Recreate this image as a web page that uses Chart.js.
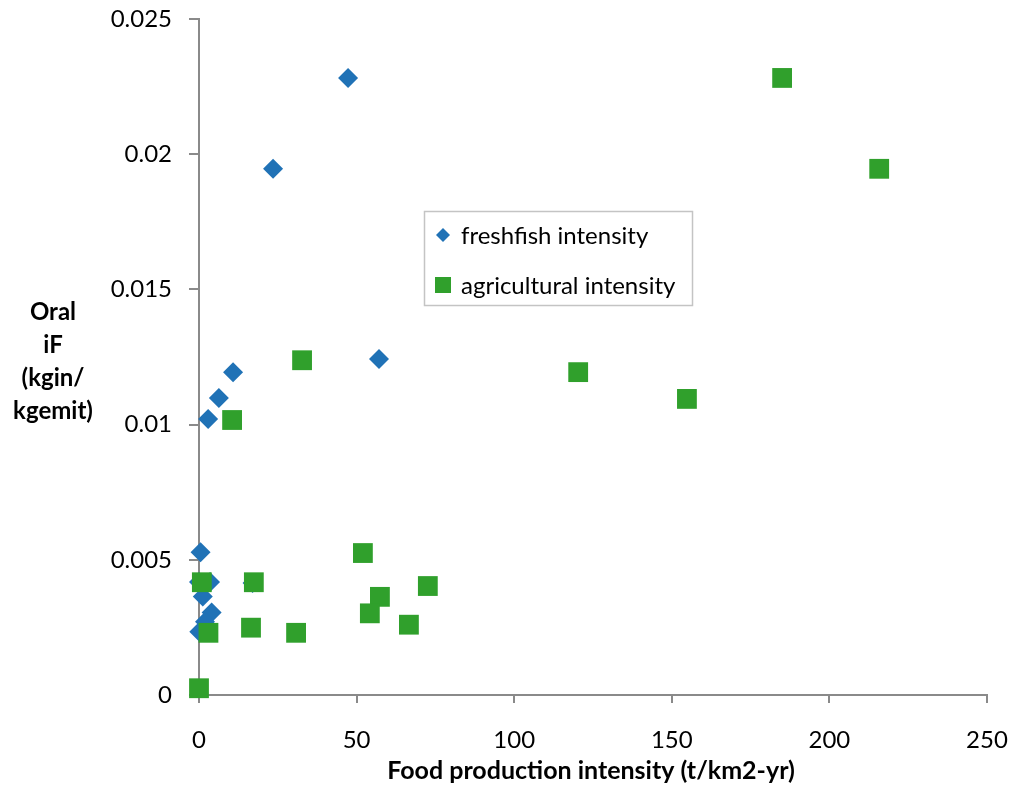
<!DOCTYPE html>
<html><head><meta charset="utf-8">
<script src="https://cdn.jsdelivr.net/npm/chart.js@4.4.1/dist/chart.umd.min.js"></script>
<style>html,body{margin:0;padding:0;background:#fff}#wrap{width:1011px;height:791px;position:relative}</style>
</head><body><div id="wrap"><canvas id="c" width="1011" height="791"></canvas></div>
<script>
const seriesNames = ['freshfish intensity', 'agricultural intensity'];
const freshfishX = [47.3, 23.5, 57.1, 10.8, 6.3, 2.9, 0.5, 0.0, 3.5, 1.2, 4.0, 1.9, 0.1, 17.0];
const freshfishY = [0.02282, 0.01946, 0.01243, 0.01194, 0.01098, 0.01021, 0.00528, 0.00418, 0.00418, 0.00364, 0.00305, 0.00271, 0.00234, 0.00414];
const agriX = [185.0, 215.8, 32.7, 120.3, 154.8, 10.5, 52.0, 72.6, 57.4, 54.2, 66.6, 30.8, 0.9, 17.4, 16.5, 3.0, 0.0];
const agriY = [0.02282, 0.01946, 0.01238, 0.01194, 0.01095, 0.01017, 0.00525, 0.00403, 0.00363, 0.00302, 0.00260, 0.00230, 0.00417, 0.00417, 0.00249, 0.00230, 0.00025];
const xTickLabels = ['0', '50', '100', '150', '200', '250'];
const yTickLabels = ['0', '0.005', '0.01', '0.015', '0.02', '0.025'];
const xTitle = 'Food production intensity (t/km2-yr)';
const yTitleLines = ['Oral', 'iF', '(kgin/', 'kgemit)'];

const BLUE = '#2072B6', GREEN = '#30A02C', AXIS = '#8a8a8a';
const FONT = 'Lato, "Open Sans", sans-serif';

const toPts = (xs, ys) => xs.map((x, i) => ({x: x, y: ys[i]}));

const zeroPad = (s) => { s.paddingTop = 0; s.paddingBottom = 0; s.paddingLeft = 0; s.paddingRight = 0; };

const overlay = {
  id: 'overlay',
  afterDraw(chart) {
    const ctx = chart.ctx;
    ctx.save();
    ctx.fillStyle = '#000';
    ctx.font = 'bold 25px ' + FONT;
    ctx.textAlign = 'center';
    ctx.textBaseline = 'middle';
    ctx.fillText(xTitle, 591, 771);
    ctx.font = 'bold 24px ' + FONT;
    yTitleLines.forEach((t, i) => ctx.fillText(t, 53, 312 + i * 33));
    // legend box
    ctx.strokeStyle = '#c4c4c4';
    ctx.lineWidth = 1.5;
    ctx.strokeRect(424.5, 211.5, 268, 94);
    ctx.fillStyle = BLUE;
    ctx.beginPath();
    ctx.moveTo(443, 228); ctx.lineTo(450, 235); ctx.lineTo(443, 242); ctx.lineTo(436, 235); ctx.closePath();
    ctx.fill();
    ctx.fillStyle = GREEN;
    ctx.fillRect(435, 277, 16, 16);
    ctx.fillStyle = '#000';
    ctx.font = '24px ' + FONT;
    ctx.textAlign = 'left';
    ctx.fillText(seriesNames[0], 461, 236);
    ctx.fillText(seriesNames[1], 461, 286);
    ctx.restore();
  }
};

new Chart(document.getElementById('c'), {
  type: 'scatter',
  data: {
    datasets: [
      {label: seriesNames[0], data: toPts(freshfishX, freshfishY), pointStyle: 'rectRot', pointRadius: 10, pointHoverRadius: 10,
       backgroundColor: BLUE, borderColor: BLUE, borderWidth: 0, order: 1, clip: false},
      {label: seriesNames[1], data: toPts(agriX, agriY), pointStyle: 'rect', pointRadius: 14, pointHoverRadius: 14,
       backgroundColor: GREEN, borderColor: GREEN, borderWidth: 0, order: 0, clip: false}
    ]
  },
  options: {
    responsive: false,
    animation: false,
    events: [],
    layout: {padding: {left: 0, top: 19, right: 24, bottom: 0}},
    plugins: {legend: {display: false}, tooltip: {enabled: false}},
    scales: {
      x: {
        type: 'linear', min: 0, max: 250,
        afterFit(s) { s.height = 96; zeroPad(s); },
        ticks: {stepSize: 50, padding: 23, color: '#000', font: {family: FONT, size: 24},
                callback: (v) => xTickLabels[Math.round(v / 50)]},
        grid: {drawOnChartArea: false, drawTicks: true, tickLength: 8, color: AXIS, lineWidth: 2},
        border: {display: true, color: AXIS, width: 2}
      },
      y: {
        type: 'linear', min: 0, max: 0.025,
        afterFit(s) { s.width = 199; zeroPad(s); },
        ticks: {stepSize: 0.005, padding: 17, color: '#000', font: {family: FONT, size: 24},
                callback: (v) => yTickLabels[Math.round(v / 0.005)]},
        grid: {drawOnChartArea: false, drawTicks: true, tickLength: 10, color: AXIS, lineWidth: 2},
        border: {display: true, color: AXIS, width: 2}
      }
    }
  },
  plugins: [overlay]
});
</script></body></html>
